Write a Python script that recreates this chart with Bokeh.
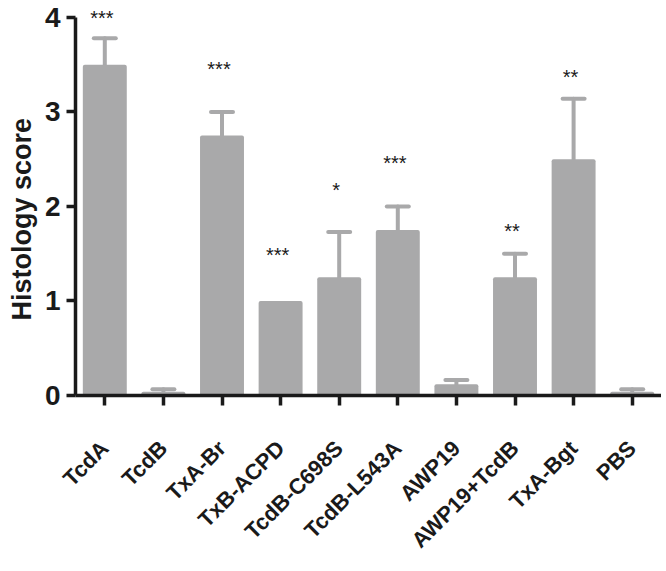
from bokeh.plotting import figure
from bokeh.models import ColumnDataSource, FactorRange, Range1d, Whisker, TeeHead, FixedTicker, Title
from bokeh.core.properties import value
from bokeh.embed import file_html
from bokeh.resources import INLINE

categories = ["TcdA", "TcdB", "TxA-Br", "TxB-ACPD", "TcdB-C698S", "TcdB-L543A",
              "AWP19", "AWP19+TcdB", "TxA-Bgt", "PBS"]
scores = [3.5, 0.04, 2.75, 1.0, 1.25, 1.75, 0.12, 1.25, 2.5, 0.04]
error_top = [3.78, 0.065, 3.0, 1.0, 1.73, 2.0, 0.165, 1.5, 3.14, 0.065]

sig_categories = ["TcdA", "TxA-Br", "TxB-ACPD", "TcdB-C698S", "TcdB-L543A", "AWP19+TcdB", "TxA-Bgt"]
sig_labels = ["***", "***", "***", "*", "***", "**", "**"]
sig_heights = [4.01, 3.47, 1.5, 2.19, 2.47, 1.75, 3.38]

y_ticks = [0, 1, 2, 3, 4]
y_title = "Histology score"

GRAY = "#a9a9aa"
BLACK = "#1a1a1a"

p = figure(x_range=FactorRange(*categories, range_padding=0),
           y_range=Range1d(0, 4.095),
           frame_width=586, frame_height=387,
           min_border_left=72, min_border_right=0, min_border_top=8, min_border_bottom=10,
           output_backend="svg", toolbar_location=None, tools="")

src = ColumnDataSource(dict(x=categories, top=scores))
p.vbar(x="x", top="top", width=0.75, source=src, fill_color=GRAY, line_color=None,
       border_radius=2)

err_idx = [i for i in range(len(categories)) if error_top[i] > scores[i]]
err_src = ColumnDataSource(dict(x=[categories[i] for i in err_idx],
                                lower=[scores[i] for i in err_idx],
                                upper=[error_top[i] for i in err_idx]))
whisker = Whisker(base="x", upper="upper", lower="lower", source=err_src, dimension="height",
                  line_color=GRAY, line_width=4, line_cap="round",
                  upper_head=TeeHead(size=22, line_color=GRAY, line_width=4, line_cap="round"),
                  lower_head=None)
p.add_layout(whisker)

sig_src = ColumnDataSource(dict(x=sig_categories, y=sig_heights, t=sig_labels))
p.text(x="x", y="y", text="t", source=sig_src, text_align="center", text_baseline="middle",
       x_offset=-3, y_offset=1, text_font=value("Liberation Sans"), text_font_size="20px",
       text_color=BLACK)

p.outline_line_color = None
p.xgrid.visible = False
p.ygrid.visible = False
p.background_fill_color = "white"

# y axis
yax = p.yaxis[0]
yax.bounds = (0, 4)
yax.ticker = FixedTicker(ticks=y_ticks)
yax.major_label_text_font = "Liberation Sans"
yax.major_label_text_font_style = "bold"
yax.major_label_text_font_size = "28px"
yax.major_label_text_color = BLACK
yax.major_label_standoff = 6
yax.axis_line_width = 3.5
yax.axis_line_color = BLACK
yax.major_tick_line_width = 3.5
yax.major_tick_line_color = BLACK
yax.major_tick_out = 9
yax.major_tick_in = 0
yax.minor_tick_line_color = None

ylabel = Title(text=y_title, align="left", offset=75, standoff=9,
               text_font="Liberation Sans", text_font_style="bold",
               text_font_size="27px", text_color=BLACK)
p.add_layout(ylabel, "left")

# x axis
xax = p.xaxis[0]
xax.major_label_orientation = 0.785398
xax.major_label_text_font = "Liberation Sans"
xax.major_label_text_font_style = "bold"
xax.major_label_text_font_size = "22px"
xax.major_label_text_color = BLACK
xax.major_label_standoff = 39
xax.axis_line_width = 3.5
xax.axis_line_color = BLACK
xax.major_tick_line_width = 3.5
xax.major_tick_line_color = BLACK
xax.major_tick_out = 10
xax.major_tick_in = 0
xax.minor_tick_line_color = None

open("out.html", "w").write(file_html(p, INLINE))
